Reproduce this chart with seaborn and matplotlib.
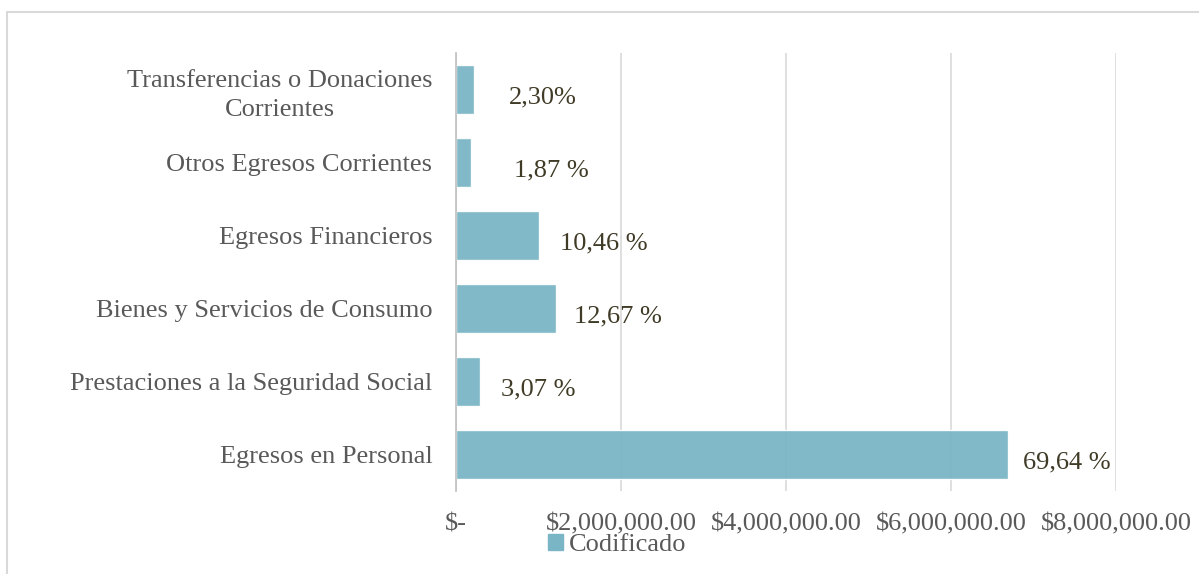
import matplotlib
matplotlib.use("Agg")
import matplotlib.pyplot as plt
import matplotlib.patches as mpatches
import seaborn as sns
import pandas as pd

# data
categorias = [
    "Transferencias o Donaciones\nCorrientes",
    "Otros Egresos Corrientes",
    "Egresos Financieros",
    "Bienes y Servicios de Consumo",
    "Prestaciones a la Seguridad Social",
    "Egresos en Personal",
]
codificado = [221000, 180000, 1005000, 1218000, 295000, 6690000]
etiquetas = ["2,30%", "1,87 %", "10,46 %", "12,67 %", "3,07 %", "69,64 %"]
xticks = [0, 2000000, 4000000, 6000000, 8000000]
xtick_labels = ["$-", "$2,000,000.00", "$4,000,000.00", "$6,000,000.00", "$8,000,000.00"]

bar_color = "#7AB5C6"
text_gray = "#595959"
label_color = "#403B27"

sns.set_style("white")
plt.rcParams["font.family"] = ["Liberation Serif", "DejaVu Serif"]

df = pd.DataFrame({"categoria": categorias, "valor": codificado})

fig = plt.figure(figsize=(11.99, 5.74), dpi=100)
ax = fig.add_axes([0.3803, 0.1446, 0.5505, 0.7631])

sns.barplot(data=df, x="valor", y="categoria", orient="h", color=bar_color,
            width=0.66, saturation=1, alpha=0.95, ax=ax, zorder=2)

ax.set_xlim(0, 8000000)
ax.set_ylim(5.5, -0.5)
ax.set_xticks(xticks)
ax.set_xticklabels(xtick_labels)
ax.grid(axis="x", color="#D9D9D9", linewidth=1.2, zorder=0)
ax.set_axisbelow(True)
ax.set_xlabel("")
ax.set_ylabel("")

for side in ["top", "right", "bottom"]:
    ax.spines[side].set_visible(False)
ax.spines["left"].set_color("#BFBFBF")
ax.spines["left"].set_linewidth(1.2)

ax.tick_params(axis="x", length=0, pad=16, labelsize=19, labelcolor=text_gray)
ax.tick_params(axis="y", length=0, pad=17, labelsize=19, labelcolor=text_gray)
for lbl in ax.get_yticklabels():
    lbl.set_multialignment("center")
    lbl.set_linespacing(1.4)

# percentage labels to the right of each bar
pads = [35, 43, 21, 18, 21, 15]
for i, (v, t) in enumerate(zip(codificado, etiquetas)):
    ax.annotate(t, xy=(v, i), xytext=(pads[i] * 0.72, -6), textcoords="offset points",
                ha="left", va="center", fontsize=19, color=label_color)

handle = mpatches.Patch(color=bar_color, label="Codificado")
fig.legend(handles=[handle], loc="center", bbox_to_anchor=(0.515, 0.05),
           frameon=False, fontsize=19, labelcolor=text_gray,
           handlelength=0.55, handleheight=0.55, handletextpad=0.25)

# outer chart border
fig.patches.append(mpatches.Rectangle((7 / 1199, -0.05), 1.2, 1.05 - 12 / 574,
                                      transform=fig.transFigure, fill=False,
                                      edgecolor="#D9D9D9", linewidth=1.5))

fig.savefig("out.png", dpi=100)
